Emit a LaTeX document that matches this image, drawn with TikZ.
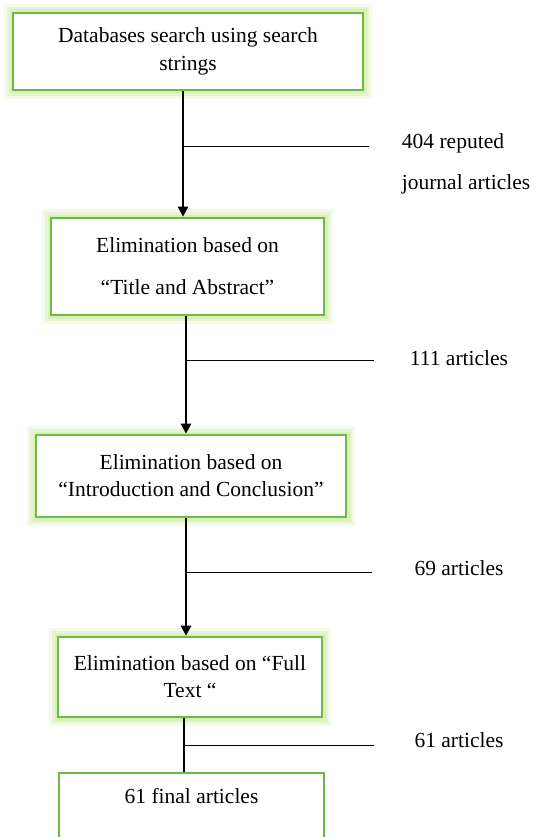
\documentclass[tikz,border=0pt]{standalone}
\usepackage{fontspec}
\setmainfont{Liberation Serif}
\usetikzlibrary{arrows.meta, calc}
\definecolor{boxgreen}{HTML}{6DBB45}
\definecolor{glowgreen}{HTML}{D9F0B8}
\definecolor{glowmid}{HTML}{E6F5D0}
\definecolor{glowpale}{HTML}{F3FAEA}
\tikzset{
  step box/.style={draw=boxgreen, line width=2.6pt, fill=white, align=center,
    inner sep=0pt, font=\fontsize{21.5}{25}\selectfont},
  glow box/.style={step box,
    preaction={draw=glowpale, line width=18pt},
    preaction={draw=glowmid, line width=12pt},
    preaction={draw=glowgreen, line width=7pt}},
  flow arrow/.style={line width=2.8pt, -{Triangle[length=10pt, width=10pt]}},
  flow line/.style={line width=2.8pt},
  count line/.style={line width=0.8pt},
  count text/.style={font=\fontsize{21.5}{25}\selectfont, align=center},
}
\begin{document}
\begin{tikzpicture}[x=1pt, y=-1pt]
  \useasboundingbox (0,0) rectangle (542,837);
  % stages of the screening
  \node[glow box, minimum width=350pt, minimum height=77pt] (search) at (188,51.5)
    {Databases search using search\\[3pt]strings};
  \node[glow box, minimum width=273pt, minimum height=97pt] (title) at (187.5,266.5)
    {Elimination based on\\[17pt]``Title and Abstract''};
  \node[glow box, minimum width=310pt, minimum height=82pt] (intro) at (191,476)
    {Elimination based on\\[2pt]``Introduction and Conclusion''};
  \node[glow box, minimum width=264pt, minimum height=80pt] (full) at (190,677)
    {Elimination based on ``Full\\[2pt]Text ``};
  \node[step box, minimum width=265pt, minimum height=70pt, text depth=24pt] (final) at (191.5,808)
    {61 final articles};

  % connectors
  \draw[flow arrow] ([xshift=-5pt]search.south) -- ([xshift=-5pt]search.south |- title.north);
  \draw[flow arrow] ([xshift=-1.5pt]title.south) -- ([xshift=-1.5pt]title.south |- intro.north);
  \draw[flow arrow] ([xshift=-5pt]intro.south) -- ([xshift=-5pt]intro.south |- full.north);
  \draw[flow line] ([xshift=-6pt]full.south) -- ([xshift=-6pt]full.south |- final.north);

  % article counts
  \coordinate (c1) at (183,146);   \coordinate (c1e) at (369,146);
  \coordinate (c2) at (186,360);   \coordinate (c2e) at (374,360);
  \coordinate (c3) at (186,572);   \coordinate (c3e) at (372,572);
  \coordinate (c4) at (184,745);   \coordinate (c4e) at (374,745);
  \draw[count line] (c1) -- (c1e);
  \draw[count line] (c2) -- (c2e);
  \draw[count line] (c3) -- (c3e);
  \draw[count line] (c4) -- (c4e);
  \node[count text] (n1) at (453,143) {404 reputed};
  \node[count text] (n1b) at (466,184) {journal articles};
  \node[count text] (n2) at (459,358) {111 articles};
  \node[count text] (n3) at (459,568) {69 articles};
  \node[count text] (n4) at (459,740) {61 articles};
\end{tikzpicture}
\end{document}
